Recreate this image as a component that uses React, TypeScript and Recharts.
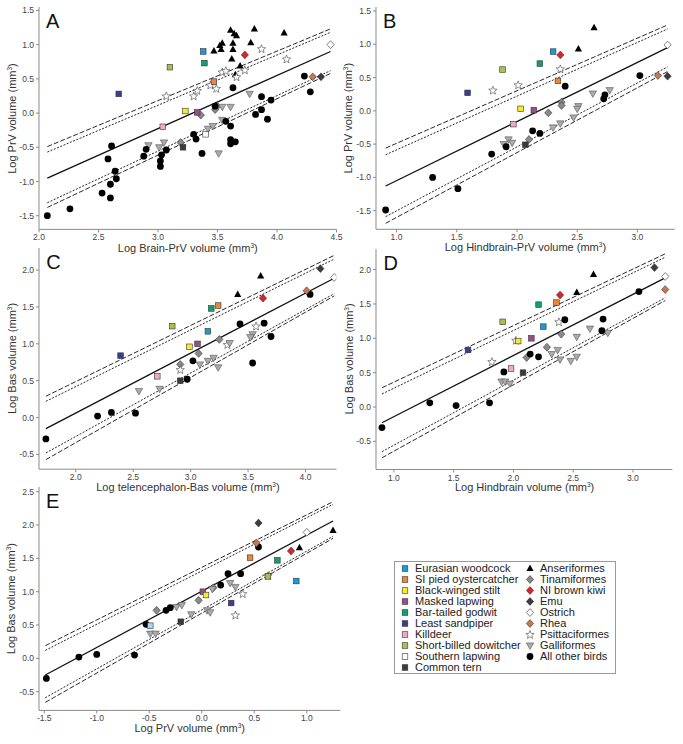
import React from 'react';
import { ScatterChart, Scatter, XAxis, YAxis } from 'recharts';

type Pt = [number, number];
type Named = [string, number, number];

const FONT = '"Liberation Sans", Arial, Helvetica, sans-serif';

// ---------- A: log brain-PrV (x) vs log PrV (y)
const aShorebirds: Named[] = [
  ['Eurasian woodcock', 3.38, 0.9],
  ['Bar-tailed godwit', 3.39, 0.73],
  ['Short-billed dowitcher', 3.1, 0.67],
  ['Least sandpiper', 2.67, 0.28],
  ['SI pied oystercatcher', 3.47, 0.46],
  ['Black-winged stilt', 3.23, 0.03],
  ['Masked lapwing', 3.33, 0.01],
  ['Killdeer', 3.04, -0.2],
  ['Southern lapwing', 3.4, -0.31],
  ['Common tern', 3.21, -0.5],
];
const aRatites: Named[] = [
  ['NI brown kiwi', 3.73, 0.85],
  ['Ostrich', 4.45, 1.0],
  ['Rhea', 4.3, 0.53],
  ['Emu', 4.37, 0.53],
];
const aAnseriformes: Pt[] = [
  [3.61, 1.21], [3.81, 1.23], [4.06, 1.17], [3.64, 1.16], [3.66, 1.13], [3.54, 1.02],
  [3.52, 0.99], [3.63, 1.02], [3.78, 1.03], [3.47, 0.91], [3.53, 0.93], [3.63, 0.93],
  [3.62, 0.79], [3.69, 0.69], [3.65, 0.56],
];
const aTinamiformes: Pt[] = [[3.36, -0.03], [3.19, -0.43], [3.5, 0.1], [3.48, 0.05]];
const aPsittaciformes: Pt[] = [
  [3.87, 0.94], [4.08, 0.79], [3.73, 0.63], [3.66, 0.53], [3.54, 0.6], [3.57, 0.62],
  [3.44, 0.41], [3.49, 0.36], [3.33, 0.33], [3.3, 0.25], [3.07, 0.25],
];
const aGalliformes: Pt[] = [
  [3.77, 0.28], [3.61, 0.09], [3.54, 0.09], [2.92, -0.47], [3.01, -0.5], [3.05, -0.43],
  [3.42, -0.23], [3.46, -0.19], [3.54, -0.1], [3.51, -0.59],
];
const aOtherBirds: Pt[] = [
  [2.07, -1.5], [2.26, -1.4], [2.53, -1.17], [2.6, -1.24], [2.6, -1.04], [2.64, -0.85],
  [2.65, -0.96], [2.58, -0.67], [2.61, -0.48], [2.88, -0.63], [2.9, -0.53], [3.02, -0.78],
  [3.02, -0.7], [3.03, -0.61], [3.07, -0.54], [3.3, -0.31], [3.32, -0.38], [3.37, -0.59],
  [3.48, 0.1], [3.63, 0.37], [3.57, -0.12], [3.61, -0.19], [3.61, -0.39], [3.61, -0.45],
  [3.65, -0.42], [3.82, -0.02], [3.87, 0.05], [3.87, 0.24], [3.95, 0.19], [3.92, -0.09],
  [4.23, 0.54], [4.28, 0.31],
];
const aLineX = [2.07, 4.45];
const aFit = [-0.95, 0.9];
const aUpperOuter = [-0.49, 1.23];
const aUpperInner = [-0.57, 1.18];
const aLowerInner = [-1.31, 0.62];
const aLowerOuter = [-1.38, 0.58];

// ---------- B: log hindbrain-PrV (x) vs log PrV (y)
const bShorebirds: Named[] = [
  ['Eurasian woodcock', 2.3, 0.89],
  ['Bar-tailed godwit', 2.19, 0.71],
  ['Short-billed dowitcher', 1.88, 0.62],
  ['Least sandpiper', 1.59, 0.27],
  ['SI pied oystercatcher', 2.34, 0.45],
  ['Black-winged stilt', 2.03, 0.03],
  ['Masked lapwing', 2.14, 0.01],
  ['Killdeer', 1.97, -0.2],
  ['Common tern', 2.07, -0.51],
];
const bRatites: Named[] = [
  ['NI brown kiwi', 2.36, 0.84],
  ['Ostrich', 3.25, 0.99],
  ['Rhea', 3.17, 0.53],
  ['Emu', 3.25, 0.52],
];
const bAnseriformes: Pt[] = [[2.64, 1.25], [2.51, 0.93]];
const bTinamiformes: Pt[] = [[2.37, 0.13], [2.37, 0.08], [2.26, -0.03], [2.1, -0.43]];
const bPsittaciformes: Pt[] = [[2.36, 0.63], [2.01, 0.39], [1.8, 0.31]];
const bGalliformes: Pt[] = [
  [2.63, 0.26], [2.77, 0.31], [2.51, 0.07], [2.5, 0.03], [2.47, -0.1], [2.36, -0.19],
  [2.3, -0.25], [1.93, -0.43], [1.89, -0.5], [1.96, -0.48],
];
const bOtherBirds: Pt[] = [
  [0.91, -1.49], [1.3, -1.0], [1.51, -1.17], [1.79, -0.65], [1.91, -0.54], [2.13, -0.3],
  [2.19, -0.34], [2.4, 0.37], [2.72, 0.18], [2.73, 0.24], [3.02, 0.53],
];
const bLineX = [0.91, 3.25];
const bFit = [-1.13, 0.95];
const bUpperOuter = [-0.56, 1.29];
const bUpperInner = [-0.66, 1.23];
const bLowerInner = [-1.59, 0.66];
const bLowerOuter = [-1.69, 0.59];

// ---------- C: log telencephalon-Bas (x) vs log Bas (y)
const cShorebirds: Named[] = [
  ['Bar-tailed godwit', 3.18, 1.48],
  ['SI pied oystercatcher', 3.24, 1.52],
  ['Short-billed dowitcher', 2.84, 1.24],
  ['Eurasian woodcock', 3.15, 1.17],
  ['Least sandpiper', 2.39, 0.84],
  ['Black-winged stilt', 2.99, 0.96],
  ['Masked lapwing', 3.06, 1.0],
  ['Killdeer', 2.71, 0.56],
  ['Common tern', 2.91, 0.5],
];
const cRatites: Named[] = [
  ['Emu', 4.13, 2.02],
  ['Ostrich', 4.25, 1.9],
  ['Rhea', 4.01, 1.72],
  ['NI brown kiwi', 3.63, 1.62],
];
const cAnseriformes: Pt[] = [[3.61, 1.92], [3.41, 1.67]];
const cTinamiformes: Pt[] = [[3.25, 1.06], [3.07, 0.87], [2.91, 0.72]];
const cPsittaciformes: Pt[] = [[2.91, 0.65], [3.32, 0.99], [3.57, 1.24]];
const cGalliformes: Pt[] = [
  [2.55, 0.36], [2.73, 0.39], [3.08, 0.72], [3.15, 0.77], [3.2, 0.81], [3.24, 0.68],
  [3.34, 1.01], [3.54, 1.13], [3.52, 1.09],
];
const cOtherBirds: Pt[] = [
  [1.74, -0.29], [2.19, 0.02], [2.31, 0.07], [2.52, 0.06], [2.97, 0.52], [3.02, 0.77],
  [3.43, 1.27], [3.64, 1.28], [3.54, 0.74], [3.7, 1.1], [4.04, 1.67],
];
const cLineX = [1.74, 4.25];
const cFit = [-0.15, 1.89];
const cUpperOuter = [0.29, 2.2];
const cUpperInner = [0.22, 2.15];
const cLowerInner = [-0.48, 1.68];
const cLowerOuter = [-0.57, 1.65];

// ---------- D: log hindbrain (x) vs log Bas (y)
const dShorebirds: Named[] = [
  ['Bar-tailed godwit', 2.21, 1.49],
  ['SI pied oystercatcher', 2.36, 1.52],
  ['Short-billed dowitcher', 1.91, 1.24],
  ['Eurasian woodcock', 2.25, 1.17],
  ['Least sandpiper', 1.62, 0.83],
  ['Black-winged stilt', 2.04, 0.96],
  ['Masked lapwing', 2.15, 1.0],
  ['Killdeer', 1.98, 0.56],
  ['Common tern', 2.08, 0.5],
];
const dRatites: Named[] = [
  ['Emu', 3.18, 2.03],
  ['Ostrich', 3.27, 1.9],
  ['Rhea', 3.27, 1.71],
  ['NI brown kiwi', 2.39, 1.63],
];
const dAnseriformes: Pt[] = [[2.67, 1.93], [2.53, 1.67]];
const dTinamiformes: Pt[] = [[2.4, 1.06], [2.28, 0.87], [2.11, 0.72]];
const dPsittaciformes: Pt[] = [[2.38, 1.24], [2.02, 0.97], [1.82, 0.66]];
const dGalliformes: Pt[] = [
  [1.9, 0.37], [1.93, 0.37], [1.97, 0.34], [2.32, 0.77], [2.37, 0.83], [2.39, 0.69],
  [2.48, 0.67], [2.53, 0.73], [2.53, 1.02], [2.64, 1.14], [2.79, 1.08],
];
const dOtherBirds: Pt[] = [
  [0.9, -0.3], [1.3, 0.06], [1.52, 0.02], [1.8, 0.06], [1.92, 0.51], [2.14, 0.77],
  [2.21, 0.73], [2.43, 1.27], [2.74, 1.11], [2.75, 1.28], [3.05, 1.68],
];
const dLineX = [0.9, 3.27];
const dFit = [-0.23, 1.88];
const dUpperOuter = [0.28, 2.23];
const dUpperInner = [0.19, 2.18];
const dLowerInner = [-0.65, 1.59];
const dLowerOuter = [-0.74, 1.55];

// ---------- E: log PrV (x) vs log Bas (y)
const eShorebirds: Named[] = [
  ['SI pied oystercatcher', 0.46, 1.51],
  ['Bar-tailed godwit', 0.72, 1.47],
  ['Short-billed dowitcher', 0.63, 1.23],
  ['Eurasian woodcock', 0.9, 1.16],
  ['Least sandpiper', 0.28, 0.83],
  ['Masked lapwing', 0.01, 1.0],
  ['Black-winged stilt', 0.04, 0.95],
  ['Common tern', -0.2, 0.55],
  ['Pale blue', -0.49, 0.49],
];
const eRatites: Named[] = [
  ['Emu', 0.54, 2.03],
  ['Rhea', 0.52, 1.73],
  ['Ostrich', 1.0, 1.89],
  ['NI brown kiwi', 0.85, 1.61],
];
const eAnseriformes: Pt[] = [[1.25, 1.92], [0.93, 1.66]];
const eTinamiformes: Pt[] = [[0.11, 1.06], [-0.03, 0.87], [-0.43, 0.72]];
const ePsittaciformes: Pt[] = [[0.39, 0.97], [0.32, 0.65], [0.63, 1.24]];
const eGalliformes: Pt[] = [
  [0.27, 1.13], [0.32, 1.07], [0.1, 1.04], [0.05, 0.72], [0.08, 0.69], [-0.1, 0.66],
  [-0.24, 0.77], [-0.19, 0.8], [-0.49, 0.37], [-0.44, 0.37],
];
const eOtherBirds: Pt[] = [
  [-1.48, -0.3], [-1.17, 0.02], [-1.0, 0.06], [-0.64, 0.05], [-0.53, 0.51], [-0.34, 0.72],
  [-0.3, 0.76], [0.18, 1.1], [0.25, 1.27], [0.37, 1.27], [0.54, 1.67],
];
const eLineX = [-1.49, 1.25];
const eFit = [-0.25, 2.06];
const eUpperOuter = [0.19, 2.35];
const eUpperInner = [0.12, 2.31];
const eLowerInner = [-0.59, 1.83];
const eLowerOuter = [-0.66, 1.8];

// legend
const legendShorebirds = [
  'Eurasian woodcock', 'SI pied oystercatcher', 'Black-winged stilt', 'Masked lapwing',
  'Bar-tailed godwit', 'Least sandpiper', 'Killdeer', 'Short-billed dowitcher',
  'Southern lapwing', 'Common tern',
];
const legendOthers = [
  'Anseriformes', 'Tinamiformes', 'NI brown kiwi', 'Emu', 'Ostrich', 'Rhea',
  'Psittaciformes', 'Galliformes', 'All other birds',
];

const FILLS: Record<string, string> = {
  'Eurasian woodcock': '#1b9ad6',
  'SI pied oystercatcher': '#ef8536',
  'Black-winged stilt': '#f6ec2a',
  'Masked lapwing': '#9c4c8c',
  'Bar-tailed godwit': '#119f6d',
  'Least sandpiper': '#37408f',
  Killdeer: '#f3a9c5',
  'Short-billed dowitcher': '#a7c24a',
  'Southern lapwing': '#ffffff',
  'Common tern': '#3a3a3a',
  'Pale blue': '#a8d8f2',
  'NI brown kiwi': '#e2202a',
  Emu: '#3c3c3c',
  Ostrich: '#ffffff',
  Rhea: '#c9784b',
  Anseriformes: '#000000',
  Tinamiformes: '#8a8a8a',
  Psittaciformes: '#ffffff',
  Galliformes: '#ababab',
  'All other birds': '#000000',
};

const KIND: Record<string, string> = {
  Anseriformes: 'triangle',
  Tinamiformes: 'diamond',
  'NI brown kiwi': 'diamond',
  Emu: 'diamond',
  Ostrich: 'diamond',
  Rhea: 'diamond',
  Psittaciformes: 'star',
  Galliformes: 'down',
  'All other birds': 'circle',
};

function starPoints(cx: number, cy: number, R: number, r: number) {
  const pts: string[] = [];
  for (let k = 0; k < 10; k++) {
    const a = ((-90 + 36 * k) * Math.PI) / 180;
    const rad = k % 2 === 0 ? R : r;
    pts.push(`${cx + rad * Math.cos(a)},${cy + rad * Math.sin(a)}`);
  }
  return pts.join(' ');
}

function Marker({ kind, cx, cy, fill }: { kind: string; cx: number; cy: number; fill: string }) {
  const edge = '#333';
  if (kind === 'square')
    return <rect x={cx - 2.8} y={cy - 2.8} width={5.6} height={5.6} fill={fill} stroke={edge} strokeWidth={0.6} />;
  if (kind === 'diamond')
    return (
      <polygon
        points={`${cx},${cy - 3.9} ${cx + 3.6},${cy} ${cx},${cy + 3.9} ${cx - 3.6},${cy}`}
        fill={fill}
        stroke={edge}
        strokeWidth={0.6}
      />
    );
  if (kind === 'triangle')
    return <polygon points={`${cx},${cy - 3.9} ${cx + 3.6},${cy + 2.6} ${cx - 3.6},${cy + 2.6}`} fill={fill} />;
  if (kind === 'down')
    return (
      <polygon
        points={`${cx - 3.7},${cy - 2.6} ${cx + 3.7},${cy - 2.6} ${cx},${cy + 3.9}`}
        fill={fill}
        stroke="#555"
        strokeWidth={0.6}
      />
    );
  if (kind === 'star')
    return <polygon points={starPoints(cx, cy + 0.4, 4.4, 1.9)} fill={fill} stroke="#444" strokeWidth={0.6} />;
  return <circle cx={cx} cy={cy} r={3.4} fill={fill} />;
}

const Nothing = () => <g />;

const toPts = (arr: Pt[]) => arr.map(([x, y]) => ({ x, y }));
const toNamed = (arr: Named[]) => arr.map(([name, x, y]) => ({ name, x, y }));
const toLine = (xs: number[], ys: number[]) => [
  { x: xs[0], y: ys[0] },
  { x: xs[1], y: ys[1] },
];

const fmt = (v: number) => v.toFixed(1);

function makePanel(
  letter: string,
  geom: { left: number; top: number; width: number; height: number },
  xDomain: number[],
  yDomain: number[],
  xTicks: number[],
  yTicks: number[],
  xTitle: string,
  yTitle: string,
  shorebirds: Named[],
  ratites: Named[],
  groups: Record<string, Pt[]>,
  lineX: number[],
  lines: { fit: number[]; uo: number[]; ui: number[]; li: number[]; lo: number[] },
) {
  return { letter, geom, xDomain, yDomain, xTicks, yTicks, xTitle, yTitle, shorebirds, ratites, groups, lineX, lines };
}

const panels = [
  makePanel('A', { left: 39, top: 7.3, width: 297.5, height: 222.4 }, [2.0, 4.5], [-1.7, 1.55],
    [2.0, 2.5, 3.0, 3.5, 4.0, 4.5], [-1.5, -1.0, -0.5, 0.0, 0.5, 1.0, 1.5],
    'Log Brain-PrV volume', 'Log PrV volume', aShorebirds, aRatites,
    { Anseriformes: aAnseriformes, Tinamiformes: aTinamiformes, Psittaciformes: aPsittaciformes, Galliformes: aGalliformes, 'All other birds': aOtherBirds },
    aLineX, { fit: aFit, uo: aUpperOuter, ui: aUpperInner, li: aLowerInner, lo: aLowerOuter }),
  makePanel('B', { left: 376, top: 7.0, width: 298.8, height: 222.3 }, [0.83, 3.31], [-1.78, 1.56],
    [1.0, 1.5, 2.0, 2.5, 3.0], [-1.5, -1.0, -0.5, 0.0, 0.5, 1.0, 1.5],
    'Log Hindbrain-PrV volume', 'Log PrV volume', bShorebirds, bRatites,
    { Anseriformes: bAnseriformes, Tinamiformes: bTinamiformes, Psittaciformes: bPsittaciformes, Galliformes: bGalliformes, 'All other birds': bOtherBirds },
    bLineX, { fit: bFit, uo: bUpperOuter, ui: bUpperInner, li: bLowerInner, lo: bLowerOuter }),
  makePanel('C', { left: 39.2, top: 247.9, width: 297.5, height: 221.2 }, [1.68, 4.27], [-0.7, 2.3],
    [2.0, 2.5, 3.0, 3.5, 4.0], [-0.5, 0.0, 0.5, 1.0, 1.5, 2.0],
    'Log telencephalon-Bas volume', 'Log Bas volume', cShorebirds, cRatites,
    { Anseriformes: cAnseriformes, Tinamiformes: cTinamiformes, Psittaciformes: cPsittaciformes, Galliformes: cGalliformes, 'All other birds': cOtherBirds },
    cLineX, { fit: cFit, uo: cUpperOuter, ui: cUpperInner, li: cLowerInner, lo: cLowerOuter }),
  makePanel('D', { left: 376.4, top: 248.7, width: 296.4, height: 220.5 }, [0.85, 3.33], [-0.91, 2.3],
    [1.0, 1.5, 2.0, 2.5, 3.0], [-0.5, 0.0, 0.5, 1.0, 1.5, 2.0],
    'Log Hindbrain volume', 'Log Bas volume', dShorebirds, dRatites,
    { Anseriformes: dAnseriformes, Tinamiformes: dTinamiformes, Psittaciformes: dPsittaciformes, Galliformes: dGalliformes, 'All other birds': dOtherBirds },
    dLineX, { fit: dFit, uo: dUpperOuter, ui: dUpperInner, li: dLowerInner, lo: dLowerOuter }),
  makePanel('E', { left: 39, top: 486.9, width: 301.4, height: 223.4 }, [-1.55, 1.32], [-0.78, 2.57],
    [-1.5, -1.0, -0.5, 0.0, 0.5, 1.0], [-0.5, 0.0, 0.5, 1.0, 1.5, 2.0, 2.5],
    'Log PrV volume', 'Log Bas volume', eShorebirds, eRatites,
    { Anseriformes: eAnseriformes, Tinamiformes: eTinamiformes, Psittaciformes: ePsittaciformes, Galliformes: eGalliformes, 'All other birds': eOtherBirds },
    eLineX, { fit: eFit, uo: eUpperOuter, ui: eUpperInner, li: eLowerInner, lo: eLowerOuter }),
];

type PanelCfg = (typeof panels)[number];

const LINE_STYLES: { key: 'fit' | 'uo' | 'ui' | 'li' | 'lo'; dash?: string; w: number }[] = [
  { key: 'uo', dash: '5 2', w: 0.9 },
  { key: 'ui', dash: '2 1.5', w: 0.9 },
  { key: 'li', dash: '2 1.5', w: 0.9 },
  { key: 'lo', dash: '5 2', w: 0.9 },
  { key: 'fit', w: 1.3 },
];

const tickStyle = { fill: '#444', fontSize: 8.5, fontFamily: FONT };

function Panel({ cfg }: { cfg: PanelCfg }) {
  const { geom } = cfg;
  return (
    <div style={{ position: 'absolute', left: geom.left - 40, top: geom.top - 5 }}>
      <ScatterChart
        width={geom.width + 50}
        height={geom.height + 35}
        margin={{ top: 5, right: 10, bottom: 0, left: 0 }}
      >
        <XAxis
          type="number"
          dataKey="x"
          domain={cfg.xDomain}
          ticks={cfg.xTicks}
          interval={0}
          allowDataOverflow
          tickFormatter={fmt}
          height={30}
          tickSize={3}
          stroke="#8a8a8a"
          tick={tickStyle}
        />
        <YAxis
          type="number"
          dataKey="y"
          domain={cfg.yDomain}
          ticks={cfg.yTicks}
          interval={0}
          allowDataOverflow
          tickFormatter={fmt}
          width={40}
          tickSize={3}
          stroke="#8a8a8a"
          tick={tickStyle}
        />
        {LINE_STYLES.map((s) => (
          <Scatter
            key={s.key}
            data={toLine(cfg.lineX, cfg.lines[s.key])}
            line={{ stroke: '#111', strokeWidth: s.w, strokeDasharray: s.dash }}
            shape={Nothing}
            isAnimationActive={false}
          />
        ))}
        {Object.keys(cfg.groups).map((g) => (
          <Scatter
            key={g}
            data={toPts(cfg.groups[g])}
            isAnimationActive={false}
            shape={(p: any) => <Marker kind={KIND[g]} cx={p.cx} cy={p.cy} fill={FILLS[g]} />}
          />
        ))}
        <Scatter
          data={toNamed(cfg.shorebirds)}
          isAnimationActive={false}
          shape={(p: any) => <Marker kind="square" cx={p.cx} cy={p.cy} fill={FILLS[p.payload.name]} />}
        />
        <Scatter
          data={toNamed(cfg.ratites)}
          isAnimationActive={false}
          shape={(p: any) => <Marker kind="diamond" cx={p.cx} cy={p.cy} fill={FILLS[p.payload.name]} />}
        />
      </ScatterChart>
    </div>
  );
}

function Title({ x, y, text, rotate }: { x: number; y: number; text: string; rotate?: boolean }) {
  return (
    <text
      x={x}
      y={y}
      textAnchor="middle"
      fontSize={11}
      fill="#333"
      fontFamily={FONT}
      transform={rotate ? `rotate(-90 ${x} ${y})` : undefined}
    >
      {text} (mm
      <tspan dy={-4} fontSize={6.5}>
        3
      </tspan>
      <tspan dy={4}>)</tspan>
    </text>
  );
}

function Overlay() {
  return (
    <svg width={683} height={744} style={{ position: 'absolute', left: 0, top: 0, pointerEvents: 'none' }}>
      {panels.map((p) => {
        const g = p.geom;
        return (
          <g key={p.letter}>
            <text x={g.left + 7} y={g.top + 21} fontSize={20} fontFamily={FONT} fill="#111">
              {p.letter}
            </text>
            <Title x={g.left + g.width / 2} y={g.top + g.height + 22} text={p.xTitle} />
            <Title x={g.left - 23.5} y={g.top + g.height / 2} text={p.yTitle} rotate />
          </g>
        );
      })}
    </svg>
  );
}

function LegendRow({ name, kind }: { name: string; kind: string }) {
  return (
    <div style={{ display: 'flex', alignItems: 'center', height: 11 }}>
      <svg width={20} height={11} style={{ flex: 'none' }}>
        <Marker kind={kind} cx={10} cy={5.5} fill={FILLS[name]} />
      </svg>
      <span style={{ lineHeight: '11px', whiteSpace: 'nowrap' }}>{name}</span>
    </div>
  );
}

function Legend() {
  return (
    <div
      style={{
        position: 'absolute',
        left: 394,
        top: 561,
        width: 222,
        height: 113,
        boxSizing: 'border-box',
        border: '1px solid #9a9a9a',
        fontFamily: FONT,
        fontSize: 11,
        color: '#222',
      }}
    >
      <div style={{ position: 'absolute', left: 0, top: 1 }}>
        {legendShorebirds.map((n) => (
          <LegendRow key={n} name={n} kind="square" />
        ))}
      </div>
      <div style={{ position: 'absolute', left: 125, top: 1 }}>
        {legendOthers.map((n) => (
          <LegendRow key={n} name={n} kind={KIND[n]} />
        ))}
      </div>
    </div>
  );
}

export default function App() {
  return (
    <div style={{ position: 'absolute', left: 0, top: 0, width: 683, height: 744, background: '#fff' }}>
      {panels.map((p) => (
        <Panel key={p.letter} cfg={p} />
      ))}
      <Overlay />
      <Legend />
    </div>
  );
}
